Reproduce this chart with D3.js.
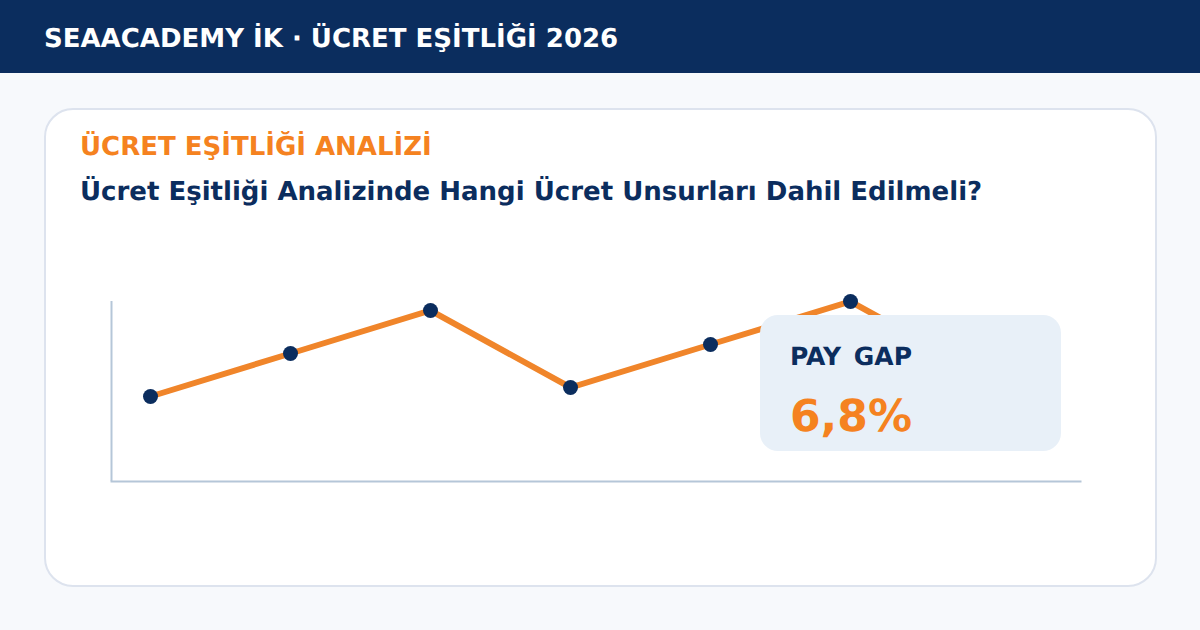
<!DOCTYPE html>
<html><head><meta charset="utf-8">
<script src="https://cdn.jsdelivr.net/npm/d3@7"></script>
<style>html,body{margin:0;padding:0;background:#f7f9fc}svg{display:block}text{font-family:"DejaVu Sans";font-weight:700;text-rendering:geometricPrecision}</style>
</head><body><svg id="c" width="1200" height="630"></svg>
<script>
const periods = [1, 2, 3, 4, 5, 6, 7];
const values = [84, 127, 170, 93, 136, 179, 102];
const headerText = "SEAACADEMY İK · ÜCRET EŞİTLİĞİ 2026";
const eyebrowText = "ÜCRET EŞİTLİĞİ ANALİZİ";
const titleText = "Ücret Eşitliği Analizinde Hangi Ücret Unsurları Dahil Edilmeli?";
const calloutLabel = "PAY GAP";
const calloutValue = "6,8%";

const navy = "#0b2d5e", orange = "#f58220";
const svg = d3.select("#c");
svg.append("rect").attr("width",1200).attr("height",630).attr("fill","#f7f9fc");
svg.append("rect").attr("width",1200).attr("height",73).attr("fill",navy);
svg.append("text").attr("x",44).attr("y",47).attr("font-size",26).attr("fill","#fff").text(headerText);
svg.append("rect").attr("x",45).attr("y",109).attr("width",1111).attr("height",477).attr("rx",28)
  .attr("fill","#fff").attr("stroke","#dde3ee").attr("stroke-width",2);
svg.append("text").attr("x",80).attr("y",155).attr("font-size",26).attr("fill",orange).text(eyebrowText);
svg.append("text").attr("x",80).attr("y",200).attr("font-size",26).attr("fill",navy).text(titleText);

const x = d3.scaleLinear().domain([1,7]).range([150.5,990.5]);
const y = d3.scaleLinear().domain([0,180]).range([480.5,300.5]);
const axisColor = "#b5c6d8";
const yAxis = d3.axisLeft(y).tickValues([]).tickSize(0);
const xAxis = d3.axisBottom(d3.scaleLinear().domain([0,1]).range([110,1081])).tickValues([]).tickSize(0);
const gy = svg.append("g").attr("transform","translate(111,0)").call(yAxis);
gy.select(".domain").attr("stroke",axisColor).attr("stroke-width",2);
const gx = svg.append("g").attr("transform","translate(0,481)").call(xAxis);
gx.select(".domain").attr("stroke",axisColor).attr("stroke-width",2);

const line = d3.line().x((d,i)=>x(periods[i])).y(d=>y(d));
svg.append("path").datum(values).attr("d",line).attr("fill","none").attr("stroke","#f0852a").attr("stroke-width",6);
svg.selectAll("circle.pt").data(values).join("circle").attr("class","pt")
  .attr("cx",(d,i)=>x(periods[i])).attr("cy",d=>y(d)).attr("r",7.5).attr("fill",navy);

svg.append("rect").attr("x",760).attr("y",315).attr("width",301).attr("height",136).attr("rx",18).attr("fill","#e8f0f8");
svg.append("text").attr("x",790).attr("y",365).attr("font-size",25).attr("word-spacing",4).attr("fill",navy).text(calloutLabel);
svg.append("text").attr("x",790).attr("y",431).attr("font-size",44).attr("fill",orange).text(calloutValue);
</script></body></html>
